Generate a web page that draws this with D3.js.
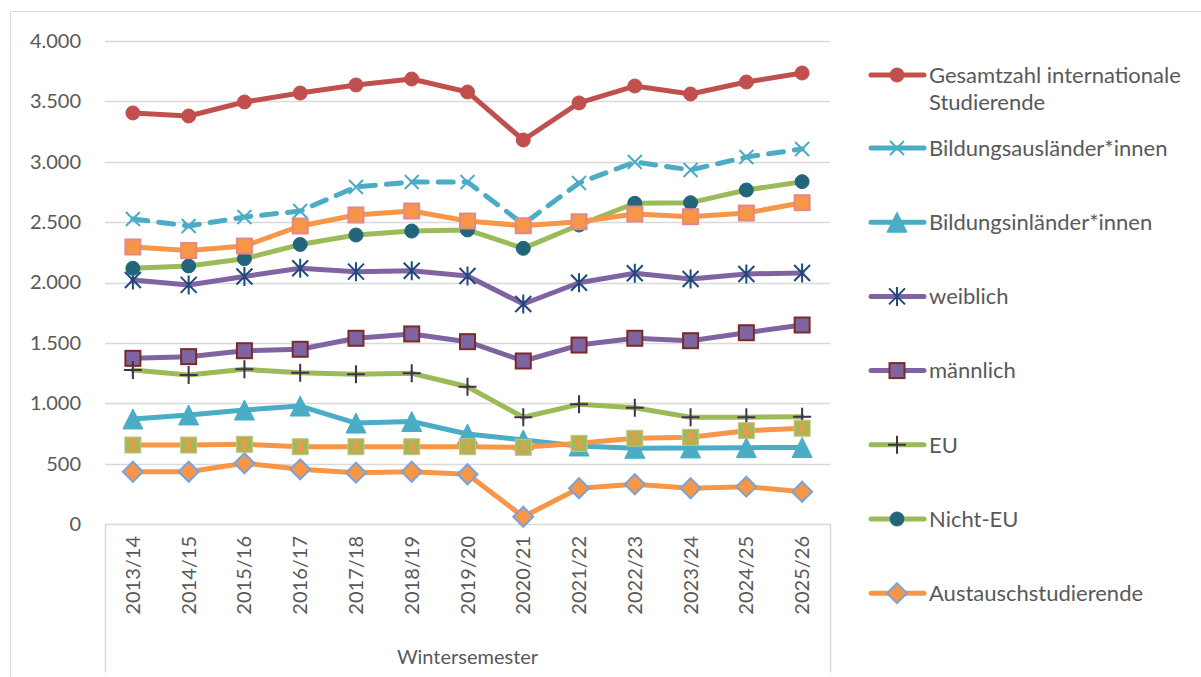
<!DOCTYPE html>
<html>
<head>
<meta charset="utf-8">
<script src="https://cdn.jsdelivr.net/npm/d3@7"></script>
<style>
  body { margin: 0; background: #fff; }
  text { font-family: Lato, "Open Sans", sans-serif; fill: #595959; }
</style>
</head>
<body>
<div id="chart"></div>
<script>
// Wintersemester categories
const semester = ["2013/14", "2014/15", "2015/16", "2016/17", "2017/18", "2018/19", "2019/20",
                  "2020/21", "2021/22", "2022/23", "2023/24", "2024/25", "2025/26"];
const yTicks = [0, 500, 1000, 1500, 2000, 2500, 3000, 3500, 4000];

// values
const gesamtzahl   = [3404, 3379, 3495, 3569, 3636, 3685, 3578, 3180, 3487, 3627, 3561, 3660, 3735];
const auslaender   = [2526, 2468, 2542, 2592, 2791, 2832, 2832, 2484, 2824, 2998, 2932, 3039, 3106];
const inlaender    = [870, 903, 944, 977, 836, 849, 745, 696, 646, 627, 630, 632, 634];
const weiblich     = [2021, 1980, 2050, 2118, 2090, 2097, 2054, 1822, 1998, 2076, 2029, 2071, 2079];
const maennlich    = [1372, 1386, 1435, 1447, 1538, 1574, 1510, 1350, 1482, 1538, 1518, 1584, 1648];
const eu           = [1275, 1234, 1281, 1253, 1240, 1248, 1137, 884, 991, 963, 884, 884, 889];
const nichtEU      = [2118, 2137, 2197, 2315, 2393, 2426, 2435, 2283, 2476, 2656, 2661, 2766, 2835];
const austausch    = [433, 433, 503, 453, 425, 433, 412, 60, 296, 329, 296, 309, 267];
// two series that are plotted but have no visible legend entry
const extraA       = [2294, 2265, 2302, 2468, 2559, 2592, 2509, 2470, 2503, 2567, 2545, 2575, 2661];
const extraB       = [654, 654, 660, 640, 640, 640, 640, 635, 668, 710, 718, 773, 793];

const width = 1201, height = 677;
const margin = {left: 105, right: 371, top: 41, bottom: 153};

const series = [
  {name: "Gesamtzahl internationale|Studierende", values: gesamtzahl, line: "#C0504D", marker: "circle", fill: "#C0504D", stroke: "#C0504D"},
  {name: "Bildungsausländer*innen", values: auslaender, line: "#4BACC6", dash: "15,11", marker: "x", fill: "none", stroke: "#4BACC6"},
  {name: "Bildungsinländer*innen", values: inlaender, line: "#4BACC6", marker: "triangle", fill: "#4BACC6", stroke: "#4BACC6"},
  {name: "weiblich", values: weiblich, line: "#8064A2", marker: "asterisk", fill: "none", stroke: "#1F497D"},
  {name: "männlich", values: maennlich, line: "#8064A2", marker: "square", fill: "#8064A2", stroke: "#772C2A"},
  {name: "EU", values: eu, line: "#9BBB59", marker: "plus", fill: "none", stroke: "#403152"},
  {name: "Nicht-EU", values: nichtEU, line: "#9BBB59", marker: "circle", fill: "#23667C", stroke: "#23667C"},
  {name: "Austauschstudierende", values: austausch, line: "#F79646", marker: "diamond", fill: "#F79646", stroke: "#7BA3D6"},
  {name: null, values: extraA, line: "#F79646", marker: "square", fill: "#F79646", stroke: "#E0888A"},
  {name: null, values: extraB, line: "#F79646", marker: "squareStar", fill: "#9BBB59", stroke: "#F79646"}
];

const svg = d3.select("#chart").append("svg")
  .attr("width", width).attr("height", height);

// outer frame
svg.append("rect")
  .attr("x", 10.5).attr("y", 11.5)
  .attr("width", 1200).attr("height", 700)
  .attr("fill", "none").attr("stroke", "#d9d9d9");

const x = d3.scaleBand()
  .domain(semester)
  .range([margin.left, width - margin.right]);

const y = d3.scaleLinear()
  .domain([0, 4000])
  .range([height - margin.bottom, margin.top]);

const de = d3.formatLocale({decimal: ",", thousands: ".", grouping: [3], currency: ["", " €"]});
const fmt = de.format(",.0f");

// gridlines
svg.append("g")
  .selectAll("line")
  .data(yTicks.slice(1))
  .join("line")
  .attr("x1", margin.left).attr("x2", width - margin.right)
  .attr("y1", d => Math.round(y(d)) + 0.5).attr("y2", d => Math.round(y(d)) + 0.5)
  .attr("stroke", "#d9d9d9").attr("stroke-width", 1.5);

// y axis labels
const yAxis = svg.append("g")
  .attr("transform", `translate(${margin.left}, 0)`)
  .call(d3.axisLeft(y).tickValues(yTicks).tickFormat(fmt).tickSize(0).tickPadding(24));
yAxis.select(".domain").remove();
yAxis.selectAll("text").attr("font-size", 20).attr("fill", "#595959")
  .style("font-family", "Lato, 'Open Sans', sans-serif");

// x axis box (category table)
const x0 = margin.left, x1 = width - margin.right, yb = Math.round(y(0)) + 0.5;
svg.append("path")
  .attr("d", `M${x0 + 0.5},${yb + 148}V${yb}H${x1 + 0.5}V${yb + 148}`)
  .attr("fill", "none").attr("stroke", "#d9d9d9").attr("stroke-width", 1.5);

const xAxis = svg.append("g")
  .attr("transform", `translate(0, ${y(0)})`)
  .call(d3.axisBottom(x).tickSize(0));
xAxis.select(".domain").remove();
xAxis.selectAll("text")
  .attr("font-size", 20).attr("fill", "#595959")
  .style("font-family", "Lato, 'Open Sans', sans-serif")
  .attr("text-anchor", "end")
  .attr("dy", "0.35em")
  .attr("transform", "rotate(-90) translate(-12, 0)")
  .attr("x", 0).attr("y", 0);

svg.append("text")
  .attr("x", (x0 + x1) / 2).attr("y", 664)
  .attr("text-anchor", "middle")
  .attr("font-size", 20)
  .text("Wintersemester");

// marker drawing
function drawMarker(g, type, fill, stroke) {
  if (type === "circle") {
    g.append("circle").attr("r", 7).attr("fill", fill).attr("stroke", stroke);
  } else if (type === "x") {
    g.append("path").attr("d", "M-7,-7L7,7M-7,7L7,-7")
      .attr("stroke", stroke).attr("stroke-width", 2).attr("fill", "none");
  } else if (type === "triangle") {
    g.append("path").attr("d", "M0,-10L10,10L-10,10Z").attr("fill", fill).attr("stroke", stroke);
  } else if (type === "asterisk") {
    g.append("path").attr("d", "M-8,-8L8,8M-8,8L8,-8M0,-9.5V9.5")
      .attr("stroke", stroke).attr("stroke-width", 2).attr("fill", "none");
  } else if (type === "square") {
    g.append("rect").attr("x", -7.5).attr("y", -7.5).attr("width", 15).attr("height", 15)
      .attr("fill", fill).attr("stroke", stroke).attr("stroke-width", 2);
  } else if (type === "plus") {
    g.append("path").attr("d", "M-9,0H9M0,-9V9")
      .attr("stroke", stroke).attr("stroke-width", 2).attr("fill", "none");
  } else if (type === "diamond") {
    g.append("path").attr("d", "M0,-10L10,0L0,10L-10,0Z")
      .attr("fill", fill).attr("stroke", stroke).attr("stroke-width", 2);
  } else if (type === "squareStar") {
    g.append("rect").attr("x", -8).attr("y", -8).attr("width", 16).attr("height", 16)
      .attr("fill", fill).attr("stroke", "#B5CC88").attr("stroke-width", 1);
    g.append("path").attr("d", "M-7,-7L7,7M-7,7L7,-7M0,-8V8")
      .attr("stroke", stroke).attr("stroke-width", 1.5).attr("fill", "none");
  }
}

const cx = d => x(d) + x.bandwidth() / 2;
const line = d3.line()
  .x((d, i) => cx(semester[i]))
  .y(d => y(d));

series.forEach(s => {
  const g = svg.append("g");
  g.append("path")
    .datum(s.values)
    .attr("d", line)
    .attr("fill", "none")
    .attr("stroke", s.line)
    .attr("stroke-width", 5)
    .attr("stroke-linejoin", "round")
    .attr("stroke-linecap", "round")
    .attr("stroke-dasharray", s.dash || null);
  g.selectAll("g.m")
    .data(s.values)
    .join("g")
    .attr("class", "m")
    .attr("transform", (d, i) => `translate(${cx(semester[i])},${y(d)})`)
    .each(function () { drawMarker(d3.select(this), s.marker, s.fill, s.stroke); });
});

// legend
const legend = svg.append("g");
series.filter(s => s.name).forEach((s, i) => {
  const ly = i === 0 ? 75 : 148 + (i - 1) * 74.2;
  const g = legend.append("g").attr("transform", `translate(0, ${ly})`);
  g.append("line")
    .attr("x1", 871).attr("x2", 924)
    .attr("stroke", s.line).attr("stroke-width", 5)
    .attr("stroke-linecap", "round");
  drawMarker(g.append("g").attr("transform", "translate(897, 0)"), s.marker, s.fill, s.stroke);
  const t = g.append("text")
    .attr("x", 929).attr("y", 0)
    .attr("font-size", 22);
  s.name.split("|").forEach((part, k) => {
    t.append("tspan").attr("x", 929).attr("dy", k === 0 ? "0.35em" : 27).text(part);
  });
});
</script>
</body>
</html>
